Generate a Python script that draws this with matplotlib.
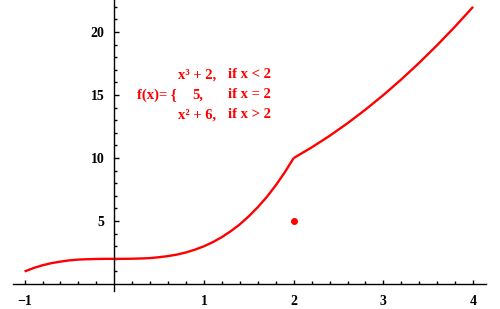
import matplotlib
matplotlib.use("Agg")
import matplotlib.pyplot as plt
from matplotlib.ticker import FixedLocator

# piece 1: x^3 + 2 for x < 2
x_left = [-1.0, -0.9, -0.8, -0.7, -0.6, -0.5, -0.4, -0.3, -0.2, -0.1, 0.0,
          0.1, 0.2, 0.3, 0.4, 0.5, 0.6, 0.7, 0.8, 0.9, 1.0,
          1.1, 1.2, 1.3, 1.4, 1.5, 1.6, 1.7, 1.8, 1.9, 2.0]
y_left = [1.0, 1.27, 1.49, 1.66, 1.78, 1.88, 1.94, 1.97, 1.99, 2.0, 2.0,
          2.0, 2.01, 2.03, 2.06, 2.13, 2.22, 2.34, 2.51, 2.73, 3.0,
          3.33, 3.73, 4.2, 4.74, 5.38, 6.1, 6.91, 7.83, 8.86, 10.0]

# piece 2: x^2 + 6 for x > 2
x_right = [2.0, 2.2, 2.4, 2.6, 2.8, 3.0, 3.2, 3.4, 3.6, 3.8, 4.0]
y_right = [10.0, 10.84, 11.76, 12.76, 13.84, 15.0, 16.24, 17.56, 18.96, 20.44, 22.0]

# isolated point f(2) = 5
x_point = [2.0]
y_point = [5.0]

x_major = [-1, 1, 2, 3, 4]
y_major = [5, 10, 15, 20]
x_minor = [-0.8, -0.6, -0.4, -0.2, 0.2, 0.4, 0.6, 0.8, 1.2, 1.4, 1.6, 1.8,
           2.2, 2.4, 2.6, 2.8, 3.2, 3.4, 3.6, 3.8]
y_minor = [1, 2, 3, 4, 6, 7, 8, 9, 11, 12, 13, 14, 16, 17, 18, 19, 21, 22]

red = "#ff0000"
serif = ["Liberation Serif", "DejaVu Serif"]

fig = plt.figure(figsize=(5, 3.09), dpi=100)
ax = fig.add_axes([0, 0, 1, 1])

ax.plot(x_left, y_left, color=red, lw=1.7, solid_capstyle="butt")
ax.plot(x_right, y_right, color=red, lw=1.7, solid_capstyle="butt")
ax.plot(x_point, y_point, "o", color=red, ms=4, mec=red)

ax.set_xlim(-1.274, 4.30)
ax.set_ylim(-1.98, 22.54)

ax.spines["left"].set_position(("data", 0))
ax.spines["bottom"].set_position(("data", 0))
ax.spines["top"].set_visible(False)
ax.spines["right"].set_visible(False)
ax.spines["left"].set_bounds(-0.55, 22.54)
ax.spines["bottom"].set_bounds(-1.13, 4.14)
for s in ("left", "bottom"):
    ax.spines[s].set_linewidth(1.0)
    ax.spines[s].set_color("black")

ax.xaxis.set_major_locator(FixedLocator(x_major))
ax.xaxis.set_minor_locator(FixedLocator(x_minor))
ax.yaxis.set_major_locator(FixedLocator(y_major))
ax.yaxis.set_minor_locator(FixedLocator(y_minor))
ax.set_xticklabels(["\u22121", "1", "2", "3", "4"])
ax.set_yticklabels([str(v) for v in y_major])

ax.tick_params(axis="x", which="major", direction="in", length=3, width=1, pad=8)
ax.tick_params(axis="x", which="minor", direction="in", length=2, width=1)
ax.tick_params(axis="y", which="major", direction="in", length=3.5, width=1, pad=7)
ax.tick_params(axis="y", which="minor", direction="in", length=2, width=1)
for lab in ax.get_xticklabels() + ax.get_yticklabels():
    lab.set_family(serif)
    lab.set_fontweight("bold")
    lab.set_fontsize(10)

# piecewise definition text, placed in pixel terms
W, H = 500, 309
def put(px, py, s, size=10.5):
    fig.text(px / W, 1 - py / H, s, color=red, family=serif, fontweight="bold",
             fontsize=size, va="center", ha="left")

put(178, 75, "x\u00b3 + 2,")
put(228, 75, "if x < 2")
put(137, 95, "f(x)= {")
put(192, 95, "5,")
put(228, 95, "if x = 2")
put(178, 115, "x\u00b2 + 6,")
put(228, 115, "if x > 2")

fig.savefig("out.png", dpi=100)
